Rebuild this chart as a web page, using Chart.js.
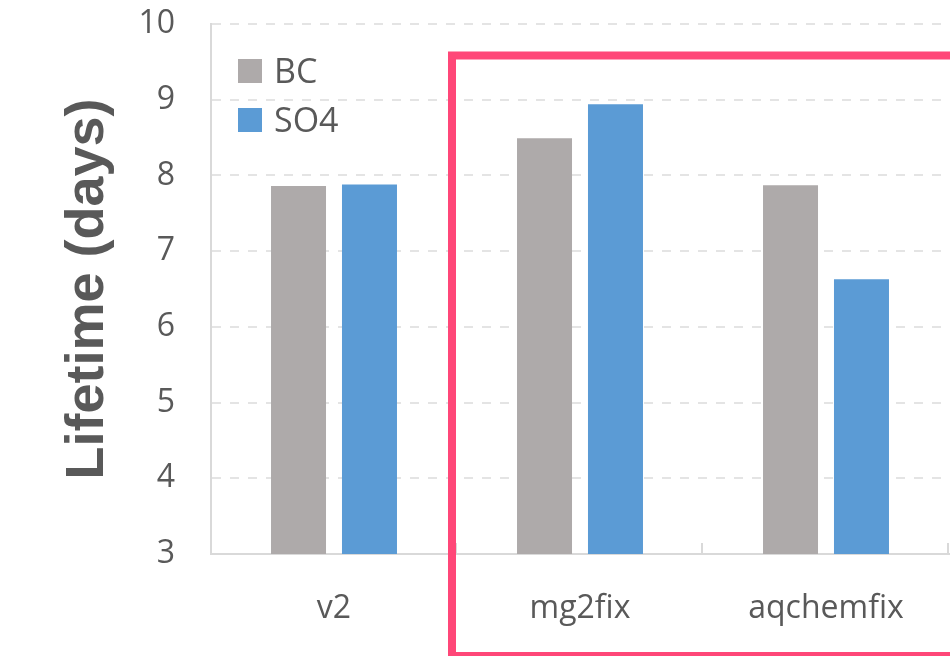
<!DOCTYPE html>
<html>
<head>
<meta charset="utf-8">
<script src="https://cdn.jsdelivr.net/npm/chart.js@4.4.1/dist/chart.umd.min.js"></script>
<style>
  html, body { margin: 0; padding: 0; background: #ffffff; }
  canvas { display: block; }
</style>
</head>
<body>
<canvas id="chart" width="950" height="656"></canvas>
<script>
// Aerosol lifetimes per model version
const categories = ['v2', 'mg2fix', 'aqchemfix'];
const seriesNames = ['BC', 'SO4'];
const bcLifetime = [7.86, 8.49, 7.87];
const so4Lifetime = [7.88, 8.94, 6.63];
const yTickValues = [3, 4, 5, 6, 7, 8, 9, 10];
const yAxisTitle = 'Lifetime (days)';

const seriesColors = ['#AEAAAA', '#5B9BD5'];
const textColor = '#595959';
const axisColor = '#D9D9D9';
const gridColor = '#E4E4E4';
const highlightColor = '#FF4778';
const labelFont = '"Open Sans", "Noto Sans", sans-serif';

// Legend drawn inside the plot area, top-left
const insideLegend = {
  id: 'insideLegend',
  afterDraw(chart) {
    const ctx = chart.ctx;
    ctx.save();
    ctx.font = '34px ' + labelFont;
    ctx.textBaseline = 'alphabetic';
    ctx.textAlign = 'left';
    chart.data.datasets.forEach((ds, i) => {
      const top = 59 + i * 49;
      ctx.fillStyle = ds.backgroundColor;
      ctx.fillRect(238, top, 24, 24);
      ctx.fillStyle = textColor;
      ctx.fillText(ds.label, 274, top + 24);
    });
    ctx.restore();
  }
};

// Short inner tick marks at category boundaries on the x axis
const categoryDividers = {
  id: 'categoryDividers',
  afterDraw(chart) {
    const xs = chart.scales.x;
    const ctx = chart.ctx;
    const n = xs.ticks.length;
    const step = (xs.right - xs.left) / n;
    ctx.save();
    ctx.strokeStyle = axisColor;
    ctx.lineWidth = 2;
    for (let i = 1; i <= n; i++) {
      const x = Math.round(xs.left + i * step) - 1;
      ctx.beginPath();
      ctx.moveTo(x, xs.top - 11);
      ctx.lineTo(x, xs.top);
      ctx.stroke();
    }
    ctx.restore();
  }
};

// Highlight frame around the two modified versions
const highlightFrame = {
  id: 'highlightFrame',
  afterDraw(chart) {
    const ctx = chart.ctx;
    ctx.save();
    ctx.strokeStyle = highlightColor;
    ctx.lineWidth = 8;
    ctx.strokeRect(452, 55.5, 560, 600.5);
    ctx.restore();
  }
};

new Chart(document.getElementById('chart'), {
  type: 'bar',
  data: {
    labels: categories,
    datasets: [
      { label: seriesNames[0], data: bcLifetime, backgroundColor: seriesColors[0] },
      { label: seriesNames[1], data: so4Lifetime, backgroundColor: seriesColors[1] }
    ]
  },
  options: {
    responsive: false,
    animation: false,
    categoryPercentage: 0.577,
    barPercentage: 0.775,
    layout: { padding: { top: 24, right: 1, left: 0, bottom: 0 } },
    plugins: {
      legend: { display: false },
      tooltip: { enabled: false }
    },
    scales: {
      x: {
        grid: { display: false },
        border: { display: true, color: axisColor, width: 2 },
        ticks: {
          color: textColor,
          font: { family: labelFont, size: 32 },
          padding: 28
        },
        afterFit(scale) {
          scale.height = 102;
          scale.paddingLeft = 0;
          scale.paddingRight = 0;
        }
      },
      y: {
        min: 3,
        max: 10,
        afterBuildTicks(scale) { scale.ticks = yTickValues.map(v => ({ value: v })); },
        grid: { color: gridColor, lineWidth: 2, drawTicks: false },
        border: { display: true, color: axisColor, width: 2, dash: [9, 9] },
        ticks: {
          color: textColor,
          font: { family: labelFont, size: 32 },
          padding: 36
        },
        title: {
          display: true,
          text: yAxisTitle,
          color: textColor,
          font: { family: '"Liberation Sans", Arial, sans-serif', size: 54, weight: 'bold' },
          padding: { top: 56, bottom: 0 }
        },
        afterFit(scale) {
          scale.width = 211;
          scale.paddingTop = 0;
          scale.paddingBottom = 0;
        }
      }
    }
  },
  plugins: [insideLegend, categoryDividers, highlightFrame]
});
</script>
</body>
</html>
